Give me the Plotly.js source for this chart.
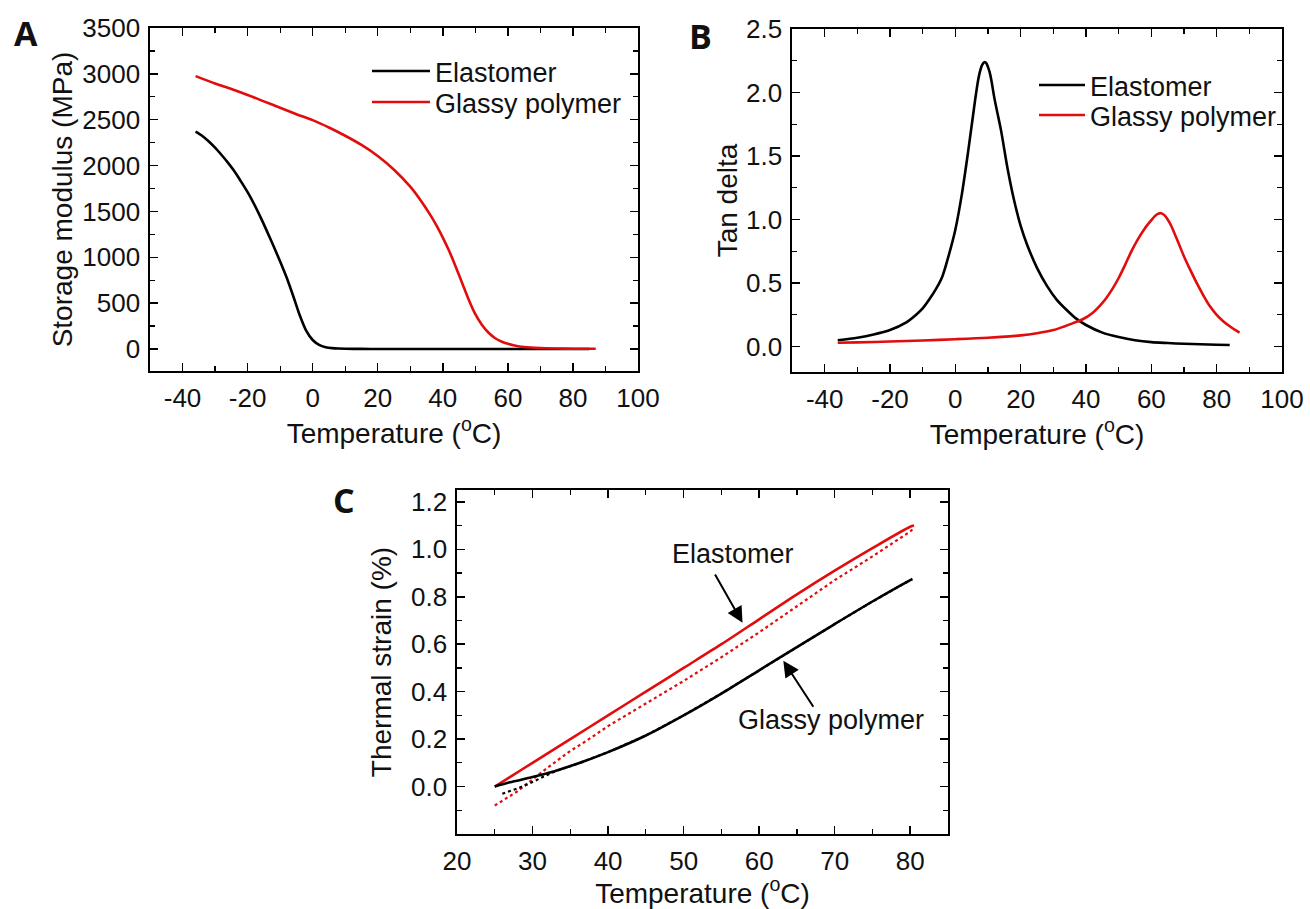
<!DOCTYPE html>
<html>
<head>
<meta charset="utf-8">
<script src="https://cdn.plot.ly/plotly-3.0.1.min.js"></script>
<style>html,body{margin:0;padding:0;background:#fff;}#chart{width:1310px;height:909px;}</style>
</head>
<body>
<div id="chart"></div>
<script>
// ---------- Panel A: storage modulus ----------
const aElastT = [-36,-34,-32,-30,-28,-26,-24,-22,-20,-18,-16,-14,-12,-10,-8,-6,-4,-2,0,2,4,6,8,10,15,20,30,40,50,60,70,80,85];
const aElastE = [2370,2325,2265,2195,2115,2030,1935,1825,1710,1580,1435,1280,1120,955,780,580,370,200,98,45,20,9,5,3,1,0,0,0,0,0,0,0,0];
const aGlassT = [-36,-30,-25,-20,-15,-10,-5,0,5,10,15,20,25,30,33,36,38,40,42,44,46,48,50,52,54,56,58,60,62,65,70,75,80,85,87];
const aGlassE = [2975,2895,2835,2770,2700,2630,2560,2495,2415,2325,2225,2105,1955,1770,1630,1470,1350,1215,1065,895,715,535,380,265,180,120,82,56,39,22,10,5,3,2,2];

// ---------- Panel B: tan delta ----------
const bElastT = [-36,-30,-25,-20,-15,-12,-10,-8,-6,-4,-2,0,2,4,6,7,7.5,8,8.5,9,9.5,10,10.5,11,12,14,16,18,20,22,25,28,31,34,37,40,45,50,55,60,65,70,75,80,84];
const bElastD = [0.05,0.07,0.095,0.13,0.19,0.25,0.3,0.37,0.45,0.55,0.72,0.92,1.2,1.55,1.93,2.1,2.16,2.205,2.23,2.24,2.23,2.2,2.16,2.1,1.95,1.7,1.4,1.15,0.95,0.8,0.62,0.48,0.37,0.29,0.22,0.17,0.11,0.075,0.05,0.035,0.028,0.022,0.018,0.015,0.013];
const bGlassT = [-36,-30,-20,-10,0,10,20,25,30,33,36,39,42,44,46,48,50,52,54,56,58,60,61,62,63,64,65,66,68,70,72,74,76,78,80,82,84,86,87];
const bGlassD = [0.03,0.033,0.04,0.048,0.058,0.07,0.088,0.105,0.13,0.155,0.185,0.215,0.265,0.315,0.375,0.45,0.54,0.645,0.755,0.85,0.93,0.995,1.025,1.045,1.05,1.035,1.0,0.955,0.835,0.71,0.6,0.495,0.4,0.315,0.25,0.2,0.16,0.125,0.11];

// ---------- Panel C: thermal strain ----------
const cElastHeatT = [25,27,30,35,40,45,50,55,60,65,70,75,80,80.5];
const cElastHeatS = [0.0,0.04,0.1,0.2,0.3,0.4,0.5,0.6,0.705,0.81,0.91,1.005,1.095,1.1];
const cElastCoolT = [25,26,28,30,32,35,37,40,45,50,55,60,65,70,75,80,80.5];
const cElastCoolS = [-0.08,-0.06,-0.02,0.03,0.08,0.15,0.19,0.255,0.35,0.445,0.545,0.65,0.76,0.87,0.97,1.075,1.09];
const cGlassHeatT = [25,27,30,33,36,40,45,50,55,60,65,70,75,80,80.3];
const cGlassHeatS = [0.0,0.018,0.04,0.066,0.097,0.145,0.215,0.3,0.392,0.49,0.588,0.685,0.78,0.87,0.875];
const cGlassCoolT = [26,27,28,29,30,31,32,33,36,40,45,50,55,60,65,70,75,80];
const cGlassCoolS = [-0.03,-0.02,-0.008,0.005,0.02,0.035,0.05,0.064,0.097,0.145,0.215,0.3,0.392,0.49,0.588,0.685,0.78,0.87];

// ---------- tick labels & names ----------
const xTickValsAB = [-40,-20,0,20,40,60,80,100];
const xTickTextAB = ['-40','-20','0','20','40','60','80','100'];
const yTickValsC = [0,0.2,0.4,0.6,0.8,1.0,1.2];
const yTickTextC = ['0.0','0.2','0.4','0.6','0.8','1.0','1.2'];
const seriesNames = ['Elastomer','Glassy polymer'];
const panelLabels = ['A','B','C'];

const RED = 'rgb(226,12,12)';
const BLACK = '#000';
const FONT = 'Liberation Sans, Arial, sans-serif';
const LW = 2.6;

const traces = [
  {x:aElastT, y:aElastE, xaxis:'x', yaxis:'y', mode:'lines', name:seriesNames[0], legend:'legend', line:{color:BLACK,width:LW,shape:'spline',smoothing:0.8}},
  {x:aGlassT, y:aGlassE, xaxis:'x', yaxis:'y', mode:'lines', name:seriesNames[1], legend:'legend2', line:{color:RED,width:LW,shape:'spline',smoothing:0.8}},
  {x:bElastT, y:bElastD, xaxis:'x2', yaxis:'y2', mode:'lines', name:seriesNames[0], legend:'legend3', line:{color:BLACK,width:LW,shape:'spline',smoothing:0.8}},
  {x:bGlassT, y:bGlassD, xaxis:'x2', yaxis:'y2', mode:'lines', name:seriesNames[1], legend:'legend4', line:{color:RED,width:LW,shape:'spline',smoothing:0.8}},
  {x:cElastCoolT, y:cElastCoolS, xaxis:'x3', yaxis:'y3', mode:'lines', showlegend:false, line:{color:RED,width:2.2,dash:'dot'}},
  {x:cGlassCoolT, y:cGlassCoolS, xaxis:'x3', yaxis:'y3', mode:'lines', showlegend:false, line:{color:BLACK,width:2.2,dash:'dot'}},
  {x:cElastHeatT, y:cElastHeatS, xaxis:'x3', yaxis:'y3', mode:'lines', showlegend:false, line:{color:RED,width:LW,shape:'spline',smoothing:0.8}},
  {x:cGlassHeatT, y:cGlassHeatS, xaxis:'x3', yaxis:'y3', mode:'lines', showlegend:false, line:{color:BLACK,width:LW,shape:'spline',smoothing:0.8}}
];

function ax(extra){
  return Object.assign({
    showline:true, linecolor:BLACK, linewidth:1.6, mirror:'allticks',
    ticks:'inside', ticklen:8, tickwidth:1.5, tickcolor:BLACK,
    showgrid:false, zeroline:false, fixedrange:true, automargin:false,
    tickfont:{family:FONT, size:26, color:'#111'},
    ticklabelstandoff:3
  }, extra);
}
function minor(d){ return {ticks:'inside', ticklen:5, tickwidth:1.2, dtick:d, tick0:0, tickcolor:BLACK}; }
const titleFont = {family:FONT, size:28, color:'#111'};
const xTitle = 'Temperature (<sup>o</sup>C)';

const W = 1310, H = 909;
const px = v => v / W, py = v => 1 - v / H;
const legFont = {family:FONT, size:27, color:'#111'};
function leg(x, yTop, iw){
  return {x:px(x), y:py(yTop), xanchor:'left', yanchor:'top', bgcolor:'rgba(0,0,0,0)', borderwidth:0, font:legFont, itemwidth:iw};
}
const lblFont = {family:'Open Sans, sans-serif', size:34, color:'#111'};

const layout = {
  width:W, height:H, margin:{l:0,r:0,t:0,b:0},
  paper_bgcolor:'#fff', plot_bgcolor:'#fff',
  font:{family:FONT, color:'#111'},
  xaxis: ax({domain:[px(150),px(638)], range:[-50,100], tickmode:'array', tickvals:xTickValsAB, ticktext:xTickTextAB,
    minor:minor(10), title:{text:xTitle, font:titleFont, standoff:3}, anchor:'y'}),
  yaxis: ax({domain:[py(371),py(28)], range:[-240,3500], dtick:500, tick0:0,
    minor:minor(250), title:{text:'Storage modulus (MPa)', font:titleFont, standoff:1}, anchor:'x'}),
  xaxis2: ax({domain:[px(792),px(1282)], range:[-50,100], tickmode:'array', tickvals:xTickValsAB, ticktext:xTickTextAB,
    minor:minor(10), title:{text:xTitle, font:titleFont, standoff:3}, anchor:'y2'}),
  yaxis2: ax({domain:[py(372),py(29)], range:[-0.2,2.5], dtick:0.5, tick0:0, tickformat:'.1f',
    minor:minor(0.25), title:{text:'Tan delta', font:titleFont, standoff:0}, anchor:'x2'}),
  xaxis3: ax({domain:[px(457),px(948)], range:[20,85], dtick:10, tick0:0,
    minor:minor(5), title:{text:xTitle, font:titleFont, standoff:3}, anchor:'y3'}),
  yaxis3: ax({domain:[py(834),py(490)], range:[-0.2,1.25], tickmode:'array', tickvals:yTickValsC, ticktext:yTickTextC,
    minor:minor(0.1), title:{text:'Thermal strain (%)', font:titleFont, standoff:11}, anchor:'x3'}),
  legend: leg(367, 47, 58),
  legend2: leg(367, 78, 58),
  legend3: leg(1034, 61, 46),
  legend4: leg(1034, 91, 46),
  annotations: [
    {xref:'paper', yref:'paper', x:px(26), y:py(33), xanchor:'center', yanchor:'middle', text:'<b>'+panelLabels[0]+'</b>', showarrow:false, font:lblFont},
    {xref:'paper', yref:'paper', x:px(700), y:py(36), xanchor:'center', yanchor:'middle', text:'<b>'+panelLabels[1]+'</b>', showarrow:false, font:lblFont},
    {xref:'paper', yref:'paper', x:px(344), y:py(500), xanchor:'center', yanchor:'middle', text:'<b>'+panelLabels[2]+'</b>', showarrow:false, font:lblFont},
    {xref:'x3', yref:'y3', x:56.5, y:0.98, xanchor:'center', yanchor:'middle', text:seriesNames[0], showarrow:false, font:legFont},
    {xref:'x3', yref:'y3', x:69.5, y:0.28, xanchor:'center', yanchor:'middle', text:seriesNames[1], showarrow:false, font:legFont},
    {xref:'x3', yref:'y3', x:57.8, y:0.69, axref:'x3', ayref:'y3', ax:54.05, ay:0.9, text:'', showarrow:true, arrowhead:2, arrowsize:1.6, arrowwidth:2, arrowcolor:BLACK},
    {xref:'x3', yref:'y3', x:63.2, y:0.53, axref:'x3', ayref:'y3', ax:67.3, ay:0.33, text:'', showarrow:true, arrowhead:2, arrowsize:1.6, arrowwidth:2, arrowcolor:BLACK}
  ],
  showlegend:true, hovermode:false
};

Plotly.newPlot('chart', traces, layout, {staticPlot:true, displayModeBar:false});
</script>
</body>
</html>
